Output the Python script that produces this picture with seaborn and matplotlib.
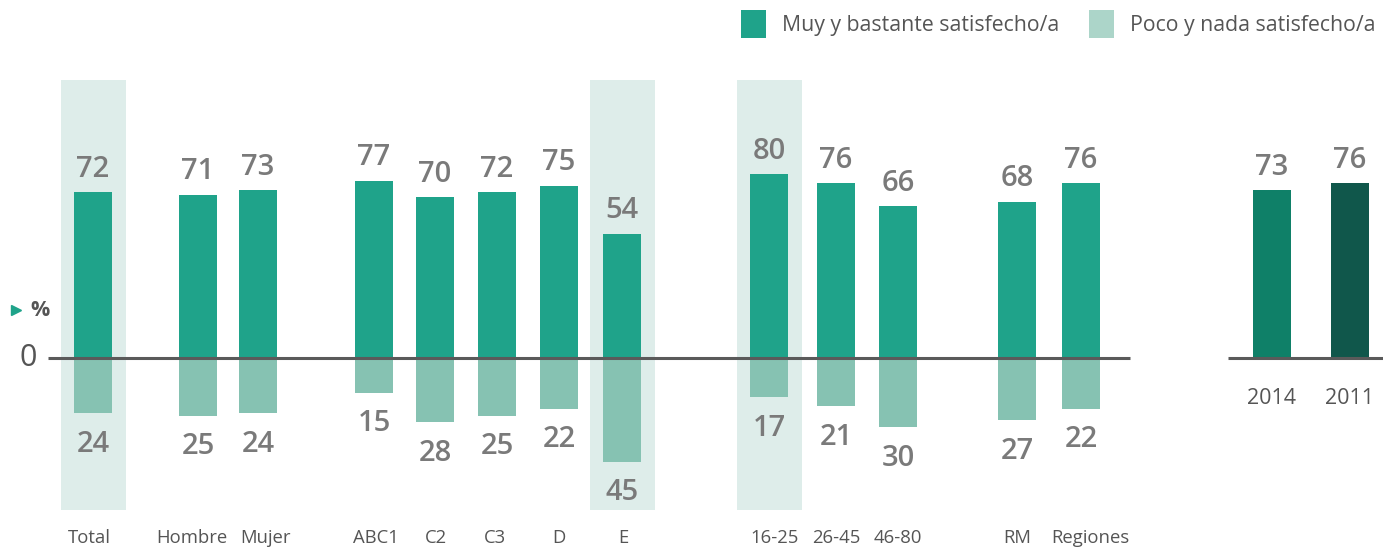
import numpy as np
import matplotlib.pyplot as plt
import seaborn as sns
from matplotlib.patches import Rectangle

sns.set_theme(style="white")
plt.rcParams['font.family'] = ['Open Sans', 'DejaVu Sans']

# data
categories = ["Total", "Hombre", "Mujer", "ABC1", "C2", "C3", "D", "E",
              "16-25", "26-45", "46-80", "RM", "Regiones"]
satisfied = [72, 71, 73, 77, 70, 72, 75, 54, 80, 76, 66, 68, 76]
unsatisfied = [24, 25, 24, 15, 28, 25, 22, 45, 17, 21, 30, 27, 22]
highlighted = ["Total", "E", "16-25"]
years = ["2014", "2011"]
year_values = [73, 76]
legend_labels = ["Muy y bastante satisfecho/a", "Poco y nada satisfecho/a"]

# layout (x in pixel-like units across the figure)
xpos = [93, 198, 258, 374, 435, 497, 559, 622, 769, 836, 898, 1017, 1081]
label_xpos = [89, 192, 265, 376, 436, 495, 559, 623, 775, 836, 898, 1017, 1090]
year_xpos = [1272, 1350]
bar_px = 38

dark = "#1fa38a"
light = "#86c2b2"
band = "#deedea"
year_colors = ["#0f8068", "#10574b"]
txt = "#7a7a7a"

W, H = 1383, 548
fig = plt.figure(figsize=(W / 100, H / 100), dpi=100)
ax = fig.add_axes([0, 0, 1, 1])
scale = 2.3  # px per percentage point
ytop, ybot = 358 / scale, -(H - 358) / scale

# highlight bands
for c in highlighted:
    x = xpos[categories.index(c)]
    ax.add_patch(Rectangle((x - 32.5, -(510 - 358) / scale), 65, (510 - 80) / scale,
                           color=band, zorder=0, lw=0))

minsp = min(np.diff(xpos))
sns.barplot(x=xpos, y=satisfied, native_scale=True, width=bar_px / minsp,
            color=dark, saturation=1, linewidth=0, ax=ax, zorder=2)
sns.barplot(x=xpos, y=[-v for v in unsatisfied], native_scale=True, width=bar_px / minsp,
            color=light, saturation=1, linewidth=0, ax=ax, zorder=2)
sns.barplot(x=year_xpos, y=year_values, hue=years, palette=year_colors, dodge=False,
            native_scale=True, width=bar_px / (year_xpos[1] - year_xpos[0]),
            saturation=1, linewidth=0, legend=False, ax=ax, zorder=2)

up = 23 / scale
down = 31 / scale
for x, lx, p, n, c in zip(xpos, label_xpos, satisfied, unsatisfied, categories):
    ax.text(x, p + up, str(p), ha="center", va="center", fontsize=21,
            color=txt, fontweight="semibold")
    ax.text(x, -n - down, str(n), ha="center", va="center", fontsize=21,
            color=txt, fontweight="semibold")
    ax.text(lx, -(538 - 358) / scale, c, ha="center", va="center", fontsize=13.3,
            color="#555555")
for x, v, y in zip(year_xpos, year_values, years):
    ax.text(x, v + up, str(v), ha="center", va="center", fontsize=21,
            color=txt, fontweight="semibold")
    ax.text(x, -(398 - 358) / scale, y, ha="center", va="center", fontsize=15.5,
            color="#555555")

# zero lines
ax.hlines(0, 48, 1130, color="#5a5a5a", lw=2.2, zorder=4)
ax.hlines(0, 1228, 1383, color="#5a5a5a", lw=2.2, zorder=4)
ax.text(28, 0, "0", ha="center", va="center", fontsize=22, color="#555555")
ax.text(40, (358 - 311) / scale, "%", ha="center", va="center", fontsize=15.5,
        color="#555555", fontweight="bold")
ax.plot([16], [(358 - 310) / scale], marker=">", ms=7, color=dark, lw=0)

# legend
for lx, tx, col, lab in [(741, 782, dark, legend_labels[0]), (1089, 1130, "#acd5c9", legend_labels[1])]:
    ax.add_patch(Rectangle((lx, (358 - 38) / scale), 25, 28 / scale, color=col, lw=0))
    ax.text(tx, (358 - 26) / scale, lab, ha="left", va="center", fontsize=15.3,
            color="#555555")

ax.set_xlim(0, W)
ax.set_ylim(ybot, ytop)
ax.axis("off")
fig.savefig("out.png", dpi=100)
